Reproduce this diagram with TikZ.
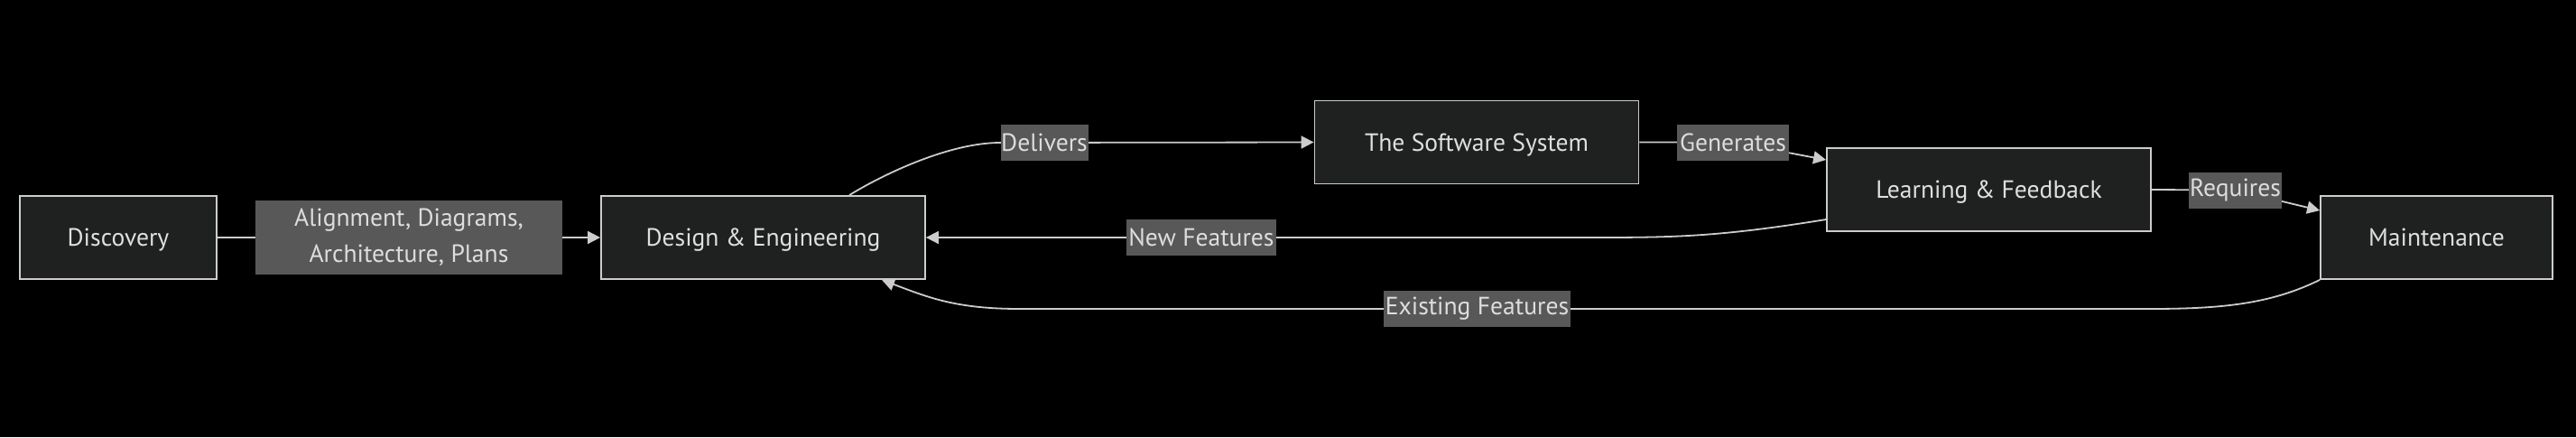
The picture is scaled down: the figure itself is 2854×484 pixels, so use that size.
\documentclass[tikz,border=0pt]{standalone}
\usepackage{fontspec}
\setmainfont{PT Sans}
\usetikzlibrary{arrows.meta,calc}
\definecolor{nodefill}{HTML}{1F2020}
\definecolor{nodeborder}{HTML}{CCCCCC}
\definecolor{txt}{HTML}{E0DFDF}
\definecolor{lbl}{HTML}{585858}
\definecolor{lbltxt}{HTML}{DDDDDD}
\definecolor{edgec}{HTML}{CCCCCC}
\pgfdeclarelayer{bg}
\pgfdeclarelayer{edges}
\pgfsetlayers{bg,edges,main}
\begin{document}
\begin{tikzpicture}[x=0.5pt,y=-0.5pt,
  txtfont/.style={font=\fontsize{13.8}{20}\selectfont},
  box/.style={draw=nodeborder,fill=nodefill,line width=0.9pt,inner sep=0pt,minimum height=46pt,text=txt,txtfont,text depth=0pt},
  elabel/.style={fill=lbl,inner sep=0pt,minimum height=20pt,text=lbltxt,txtfont},
  edge/.style={draw=edgec,line width=0.9pt},
  arr/.style={edge,-{Triangle[length=7pt,width=7pt]}}]
\begin{pgfonlayer}{bg}
\fill[black] (0,0) rectangle (2854,484);
\end{pgfonlayer}
\useasboundingbox (0,0) rectangle (2854,484);
% main nodes
\node[box,minimum width=109pt] (disc) at (131,263) {Discovery};
\node[box,minimum width=179.5pt] (design) at (845.5,263) {Design \& Engineering};
\node[box,minimum width=179.5pt] (soft) at (1636,157.5) {The Software System};
\node[box,minimum width=179.5pt] (learn) at (2203.5,210) {Learning \& Feedback};
\node[box,minimum width=128.5pt] (maint) at (2699.5,263) {Maintenance};
% edge labels
\node[elabel,minimum width=170pt,minimum height=41pt,align=center] (align) at (453,263) {Alignment, Diagrams,\\Architecture, Plans};
\node[elabel,minimum width=48.5pt] (deliv) at (1157,158) {Delivers};
\node[elabel,minimum width=62pt] (gen) at (1920,157.5) {Generates};
\node[elabel,minimum width=51.5pt] (req) at (2476.5,210.5) {Requires};
\node[elabel,minimum width=83pt] (newf) at (1331,263) {New Features};
\node[elabel,minimum width=103.5pt] (exist) at (1636.5,342) {Existing Features};
% edges
\begin{pgfonlayer}{edges}
\draw[arr] (disc.east) -- (design.west);
\draw[arr] ([xshift=47.75pt]design.north) .. controls (975,195) and (1050,158) .. (deliv.west) -- (soft.west);
\draw[arr] (soft.east) -- (gen.center) -- ([yshift=16.5pt]learn.west);
\draw[arr] ([yshift=-16.5pt]learn.west) .. controls (1900,263) and (1850,263) .. (1757,263) -- (design.east);
\draw[arr] (learn.east) -- (req.center) -- ([yshift=15pt]maint.west);
\draw[arr] (maint.south west) .. controls (2515,337) and (2460,342) .. (2381,342) -- (1130,342) .. controls (1060,342) and (1030,330) .. ([xshift=65.75pt]design.south);
\end{pgfonlayer}
\end{tikzpicture}
\end{document}
